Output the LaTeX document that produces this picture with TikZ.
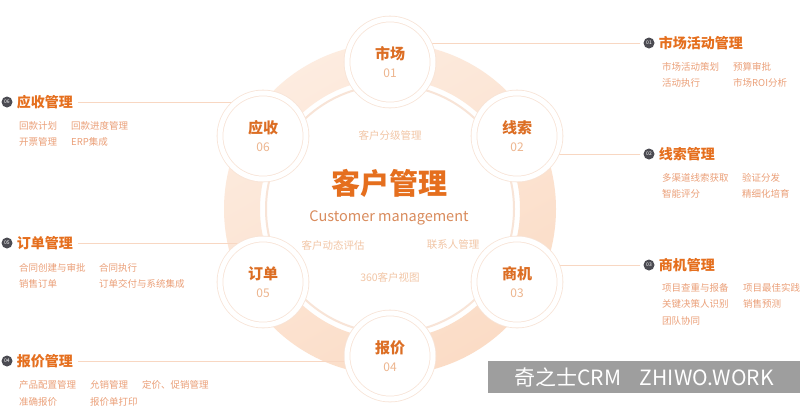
\documentclass[tikz,border=0pt]{standalone}
\usepackage{fontspec}
\setmainfont{Noto Sans CJK SC}
\usepackage{tikz}
\usetikzlibrary{positioning, backgrounds, calc}

\definecolor{brand}{HTML}{E56F1E}
\definecolor{stagetext}{HTML}{DC6E24}
\definecolor{stagenum}{HTML}{EDB58E}
\definecolor{itemtext}{HTML}{EBA079}
\definecolor{softtext}{HTML}{F2C6A6}
\definecolor{subtitle}{HTML}{D98B5C}
\definecolor{band}{HTML}{FBDCC6}
\definecolor{halo}{HTML}{F8E4D7}
\definecolor{guidecol}{HTML}{F8D7C2}
\definecolor{badgegray}{HTML}{4B4B52}

\begin{document}
\begin{tikzpicture}[x=1pt, y=-1pt]
    % Define styles
    \tikzstyle{stage} = [circle, fill=white, draw=halo, line width=0.8pt, double=white, double distance=5pt, minimum size=86pt, inner sep=0pt, align=center, text=stagetext, font=\fontsize{15}{17}\selectfont\bfseries]
    \tikzstyle{badge} = [circle, fill=badgegray, minimum size=11pt, inner sep=0pt, text=white, font=\fontsize{5}{5}\selectfont]
    \tikzstyle{head} = [inner sep=0pt, text=brand, font=\fontsize{14}{16}\selectfont\bfseries]
    \tikzstyle{item} = [anchor=west, inner sep=0pt, text=itemtext, font=\fontsize{9.5}{11}\selectfont]
    \tikzstyle{tag} = [inner sep=0pt, text=softtext, font=\fontsize{10.5}{12}\selectfont]
    \tikzstyle{guide} = [draw=guidecol, line width=0.8pt]

    \useasboundingbox (0,0) rectangle (800,416);

    % Hub
    \coordinate (hub) at (390,209);
    \node[text=brand, font=\fontsize{29}{32}\selectfont\bfseries] (title) at (389,183) {客户管理};
    \node[text=subtitle, font=\fontsize{14.5}{16}\selectfont] (subtitle) at (389,218) {Customer management};
    \node[tag] (grade) at (390,135) {客户分级管理};
    \node[tag] (assess) at (333,245) {客户动态评估};
    \node[tag] (contact) at (453,245) {联系人管理};
    \node[tag] (view) at (390,277) {360客户视图};

    % Stages
    \node[stage] (market) at (390,62) {市场\\[1pt]{\fontsize{12}{14}\selectfont\mdseries\color{stagenum}01}};
    \node[stage] (lead) at (517,136) {线索\\[1pt]{\fontsize{12}{14}\selectfont\mdseries\color{stagenum}02}};
    \node[stage] (oppty) at (517,282) {商机\\[1pt]{\fontsize{12}{14}\selectfont\mdseries\color{stagenum}03}};
    \node[stage] (quote) at (390,356) {报价\\[1pt]{\fontsize{12}{14}\selectfont\mdseries\color{stagenum}04}};
    \node[stage] (order) at (263,282) {订单\\[1pt]{\fontsize{12}{14}\selectfont\mdseries\color{stagenum}05}};
    \node[stage] (receipt) at (263,136) {应收\\[1pt]{\fontsize{12}{14}\selectfont\mdseries\color{stagenum}06}};

    % Right column
    \node[badge] (b1) at (649,43) {01};
    \node[head, right=4pt of b1] (h1) {市场活动管理};
    \node[item] at (662,67) {市场活动策划};
    \node[item] at (733,67) {预算审批};
    \node[item] at (662,83) {活动执行};
    \node[item] at (733,83) {市场ROI分析};

    \node[badge] (b2) at (649,154) {02};
    \node[head, right=4pt of b2] (h2) {线索管理};
    \node[item] at (662,178) {多渠道线索获取};
    \node[item] at (742,178) {验证分发};
    \node[item] at (662,194) {智能评分};
    \node[item] at (742,194) {精细化培育};

    \node[badge] (b3) at (649,265) {03};
    \node[head, right=4pt of b3] (h3) {商机管理};
    \node[item] at (662,288) {项目查重与报备};
    \node[item] at (743,288) {项目最佳实践};
    \node[item] at (662,304) {关键决策人识别};
    \node[item] at (743,304) {销售预测};
    \node[item] at (662,321) {团队协同};

    % Left column
    \node[badge] (b6) at (7,102) {06};
    \node[head, right=4pt of b6] (h6) {应收管理};
    \node[item] at (19,126) {回款计划};
    \node[item] at (71,126) {回款进度管理};
    \node[item] at (19,142) {开票管理};
    \node[item] at (71,142) {ERP集成};

    \node[badge] (b5) at (7,243) {05};
    \node[head, right=4pt of b5] (h5) {订单管理};
    \node[item] at (19,268) {合同创建与审批};
    \node[item] at (99,268) {合同执行};
    \node[item] at (19,284) {销售订单};
    \node[item] at (99,284) {订单交付与系统集成};

    \node[badge] (b4) at (7,361) {04};
    \node[head, right=4pt of b4] (h4) {报价管理};
    \node[item] at (19,385) {产品配置管理};
    \node[item] at (90,385) {允销管理};
    \node[item] at (142,385) {定价、促销管理};
    \node[item] at (19,402) {准确报价};
    \node[item] at (90,402) {报价单打印};

    % Watermark
    \node[fill=black!38, minimum width=312pt, minimum height=32pt, inner sep=0pt, text=white, font=\fontsize{21}{23}\selectfont] (mark) at (644,377) {奇之士CRM\hspace{0.9em}ZHIWO.WORK};

    \begin{scope}[on background layer]
        \fill[white] (0,0) rectangle (800,416);
        % Ring and inner disc
        \shade[even odd rule, top color=band!55, bottom color=band, shading angle=30] (hub) circle[radius=166] (hub) circle[radius=130];
        \draw[halo, line width=2pt] (hub) circle[radius=124];
        % Guides
        \draw[guide] (b1.west) ++(-3,0) -- (b1.west -| market);
        \draw[guide] (b2.west) ++(-3,0) -- (b2.west -| lead);
        \draw[guide] (b3.west) ++(-3,0) -- (b3.west -| oppty);
        \draw[guide] (h6.east) ++(5,0) -- (h6.east -| receipt);
        \draw[guide] (h5.east) ++(5,0) -- (h5.east -| order);
        \draw[guide] (h4.east) ++(5,0) -- (h4.east -| quote);
    \end{scope}
\end{tikzpicture}
\end{document}
